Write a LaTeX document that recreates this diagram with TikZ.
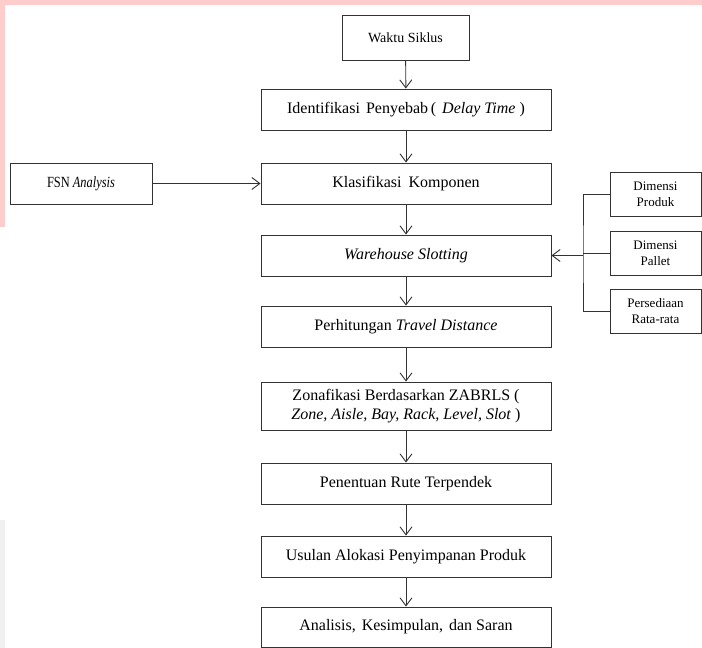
\documentclass[tikz,border=0pt]{standalone}
\usepackage{fontspec}
\setmainfont{Liberation Serif}
\usetikzlibrary{arrows.meta}
\begin{document}
\begin{tikzpicture}[x=1pt,y=-1pt,
  box/.style={draw=black!80, line width=0.9pt, inner sep=1pt, align=center, font=\fontsize{16}{19}\selectfont},
  mainbox/.style={box, minimum width=290pt, minimum height=41pt},
  sidebox/.style={box, minimum width=91pt, minimum height=44pt, font=\fontsize{13}{16}\selectfont},
  conn/.style={draw=black!80, line width=0.9pt},
  arr/.style={conn, -{Straight Barb[length=8pt,width=12pt]}}]
\useasboundingbox (0,0) rectangle (702,648);
% watermark bands
\fill[red!20] (0,0) rectangle (702,5);
\fill[red!20] (0,0) rectangle (5,227);
\fill[black!6] (0,520) rectangle (5,648);
% main column
\node[box, minimum width=127pt, minimum height=45pt, font=\fontsize{14}{16}\selectfont] (waktu) at (405.5,37.5) {Waktu Siklus};
\node[mainbox] (ident) at (406,109.5) {Identifikasi\hspace{2pt} Penyebab\,(\hspace{2pt} \textit{Delay Time} )};
\node[mainbox] (klas) at (406,183.5) {Klasifikasi\hspace{3pt} Komponen};
\node[mainbox] (ware) at (406,255.5) {\textit{Warehouse Slotting}};
\node[mainbox] (perh) at (406,326.5) {Perhitungan \textit{Travel Distance}};
\node[mainbox, minimum height=48pt] (zona) at (406,406) {Zonafikasi Berdasarkan ZABRLS (\\\textit{Zone, Aisle, Bay, Rack, Level, Slot} )};
\node[mainbox] (pene) at (406,483.5) {Penentuan Rute Terpendek};
\node[mainbox] (usul) at (406,556.5) {Usulan Alokasi Penyimpanan Produk};
\node[mainbox, minimum height=40pt] (anal) at (406,627) {Analisis,\hspace{2pt} Kesimpulan,\hspace{2pt} dan Saran};
% left
\node[box, minimum width=142pt, minimum height=41pt, font=\fontsize{15.5}{18}\selectfont] (fsn) at (81,183.5) {\scalebox{0.8}[1]{FSN \textit{Analysis}}};
% right
\node[sidebox] (prod) at (655.5,194) {Dimensi\\Produk};
\node[sidebox] (pall) at (655.5,253) {Dimensi\\Pallet};
\node[sidebox] (pers) at (655.5,311) {Persediaan\\Rata-rata};
\coordinate (bus) at (583,255.5);
% connectors
\draw[arr] (waktu) -- (ident);
\draw[arr] (ident) -- (klas);
\draw[arr] (klas) -- (ware);
\draw[arr] (ware) -- (perh);
\draw[arr] (perh) -- (zona);
\draw[arr] (zona) -- (pene);
\draw[arr] (pene) -- (usul);
\draw[arr] (usul) -- (anal);
\draw[arr] (fsn) -- (klas);
\draw[conn] (prod.west) -| (bus) |- (pers.west);
\draw[conn] (pall.west) -- (pall.west -| bus);
\draw[arr] (bus) -- (ware.east);
\end{tikzpicture}
\end{document}
